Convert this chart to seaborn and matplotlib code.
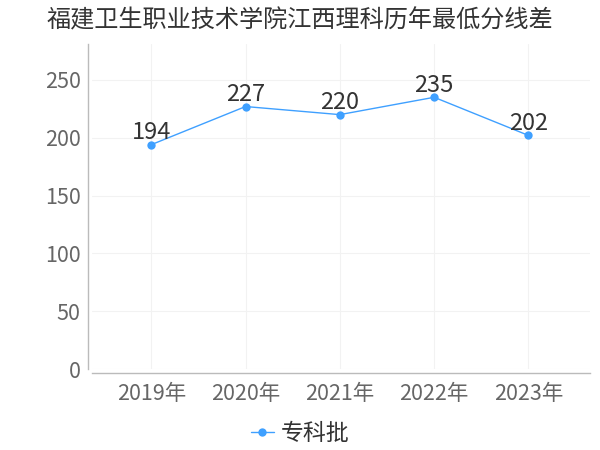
import matplotlib
matplotlib.use("Agg")
import matplotlib.pyplot as plt
import seaborn as sns
import pandas as pd

years = ["2019年", "2020年", "2021年", "2022年", "2023年"]
scores = [194, 227, 220, 235, 202]
series_name = "专科批"
title = "福建卫生职业技术学院江西理科历年最低分线差"

sns.set_theme(style="white")
plt.rcParams['font.family'] = ['Noto Sans CJK SC', 'DejaVu Sans']

df = pd.DataFrame({"year": years, "score": scores, "series": series_name})

fig = plt.figure(figsize=(6, 4.5), dpi=100)
ax = fig.add_axes([0.153, 0.18, 0.83, 0.722])
color = "#3fa0ff"
sns.lineplot(data=df, x="year", y="score", hue="series", palette=[color],
             marker="o", markersize=6, markeredgewidth=0, linewidth=1, ax=ax, sort=False)

for i, v in enumerate(scores):
    ax.text(i, v + 0.5, str(v), ha="center", va="bottom", fontsize=17, color="#333333")

ax.set_ylim(0, 281)
ax.set_xlim(-0.63, 4.65)
ax.set_yticks([0, 50, 100, 150, 200, 250])
ax.grid(True, color="#f2f2f2", linewidth=0.8)
ax.set_xlabel("")
ax.set_ylabel("")
ax.tick_params(axis="both", labelsize=15.5, labelcolor="#666666", length=0)
ax.tick_params(axis="x", pad=7)
ax.tick_params(axis="y", pad=5)
for s in ["top", "right"]:
    ax.spines[s].set_visible(False)
for s in ["left", "bottom"]:
    ax.spines[s].set_color("#bbbbbb")
    ax.spines[s].set_linewidth(1)
ax.spines["left"].set_position(("outward", 3))
ax.spines["bottom"].set_position(("outward", 3))

ax.legend_.remove()
leg = fig.legend(handles=ax.get_lines()[:1], labels=[series_name], loc="lower center",
                 bbox_to_anchor=(0.5, -0.035), frameon=False, fontsize=16.5,
                 handlelength=1.0, handletextpad=0.3)
for t in leg.get_texts():
    t.set_color("#333333")

fig.suptitle(title, x=0.5, y=0.983, fontsize=17.4, color="#333333")

fig.savefig("out.png", dpi=100)
